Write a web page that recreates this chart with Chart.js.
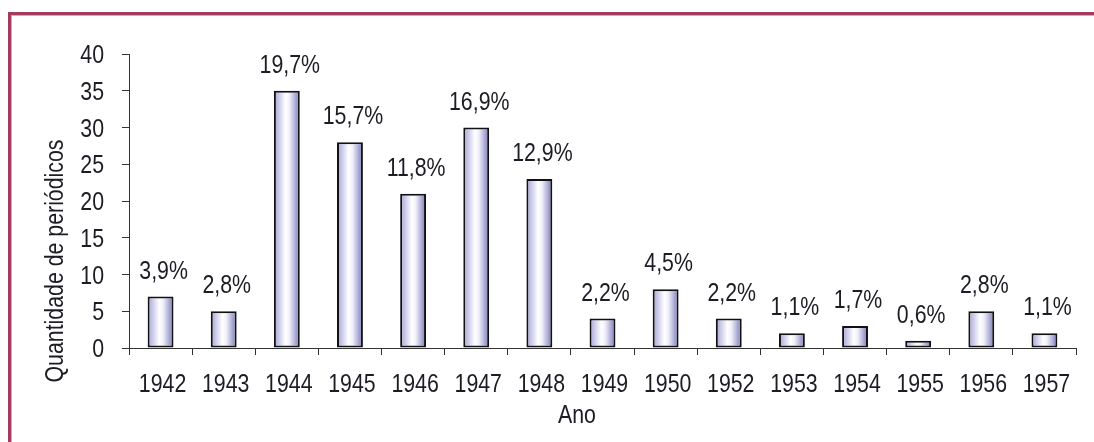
<!DOCTYPE html>
<html>
<head>
<meta charset="utf-8">
<script src="https://cdn.jsdelivr.net/npm/chart.js@4"></script>
<style>
  html, body { margin: 0; padding: 0; background: #fff; }
  #wrap { position: relative; width: 1094px; height: 442px; overflow: hidden; }
  #frame { position: absolute; left: 8px; top: 12px; width: 1200px; height: 500px;
           border-left: 3px solid #a53a61; border-top: 3px solid #a53a61;
           box-shadow: inset 1px 1px 0 #dca6ba; }
  canvas { position: absolute; left: 0; top: 0; }
</style>
</head>
<body>
<div id="wrap">
  <div id="frame"></div>
  <canvas id="chart" width="1094" height="442"></canvas>
</div>
<script>
const years = ['1942', '1943', '1944', '1945', '1946', '1947', '1948', '1949', '1950', '1952', '1953', '1954', '1955', '1956', '1957'];
const counts = [7, 5, 35, 28, 21, 30, 23, 4, 8, 4, 2, 3, 1, 5, 2];
const shares = ['3,9%', '2,8%', '19,7%', '15,7%', '11,8%', '16,9%', '12,9%', '2,2%', '4,5%', '2,2%', '1,1%', '1,7%', '0,6%', '2,8%', '1,1%'];
const yTitle = 'Quantidade de periódicos';
const xTitle = 'Ano';

// no Arial Narrow here, so Liberation Sans squeezed sideways stands in for it
const FONT = "'Liberation Sans', Arial, sans-serif";
const SQUEEZE = 0.82;
const INK = '#1c1c24';
const BAR_PCT = 0.41;

function narrowText(c, text, x, y, align) {
  c.save();
  c.translate(x, y);
  c.scale(SQUEEZE, 1);
  c.textAlign = align;
  c.fillText(text, 0, 0);
  c.restore();
}

function barFill(ctx) {
  const chart = ctx.chart;
  if (!chart.chartArea || ctx.type !== 'data') return '#c8c8ea';
  const xs = chart.scales.x;
  const cx = xs.getPixelForValue(ctx.dataIndex);
  const hw = (xs.width / years.length) * BAR_PCT / 2;
  const g = chart.ctx.createLinearGradient(cx - hw, 0, cx + hw, 0);
  g.addColorStop(0, '#a2a2d8');
  g.addColorStop(0.45, '#ffffff');
  g.addColorStop(0.6, '#f0f0fa');
  g.addColorStop(1, '#7878ba');
  return g;
}

const textLayer = {
  id: 'textLayer',
  afterDraw(chart) {
    const c = chart.ctx;
    const xs = chart.scales.x;
    const ys = chart.scales.y;
    c.save();
    c.font = '26px ' + FONT;
    c.fillStyle = INK;
    c.textBaseline = 'alphabetic';

    // tick labels
    years.forEach((yr, i) => narrowText(c, yr, xs.getPixelForValue(i) + 2, 392, 'center'));
    ys.ticks.forEach(t => narrowText(c, String(t.value), 104, ys.getPixelForValue(t.value) + 9, 'right'));

    // share labels above bars
    chart.getDatasetMeta(0).data.forEach((bar, i) => {
      narrowText(c, shares[i], bar.x + 3, bar.y - 18, 'center');
    });

    // axis titles
    narrowText(c, xTitle, 577, 423, 'center');
    c.translate(63, 261);
    c.rotate(-Math.PI / 2);
    narrowText(c, yTitle, 0, 0, 'center');
    c.restore();
  }
};

new Chart(document.getElementById('chart'), {
  type: 'bar',
  data: {
    labels: years,
    datasets: [{
      data: counts,
      backgroundColor: barFill,
      borderColor: '#111',
      borderWidth: 2,
      borderSkipped: false,
      barPercentage: BAR_PCT,
      categoryPercentage: 1
    }]
  },
  options: {
    responsive: false,
    animation: false,
    devicePixelRatio: 1,
    layout: { padding: { top: 54, right: 18, left: 0, bottom: 0 } },
    plugins: { legend: { display: false }, tooltip: { enabled: false } },
    scales: {
      x: {
        afterFit(s) { s.height = 94; },
        grid: { drawOnChartArea: false, tickLength: 7, color: '#333', offset: true },
        border: { color: '#333', width: 1 },
        ticks: { display: false, autoSkip: false }
      },
      y: {
        min: 0, max: 40,
        afterFit(s) { s.width = 129; },
        grid: { drawOnChartArea: false, tickLength: 7, color: '#333' },
        border: { color: '#333', width: 1 },
        ticks: { display: false, stepSize: 5 }
      }
    }
  },
  plugins: [textLayer]
});
</script>
</body>
</html>
